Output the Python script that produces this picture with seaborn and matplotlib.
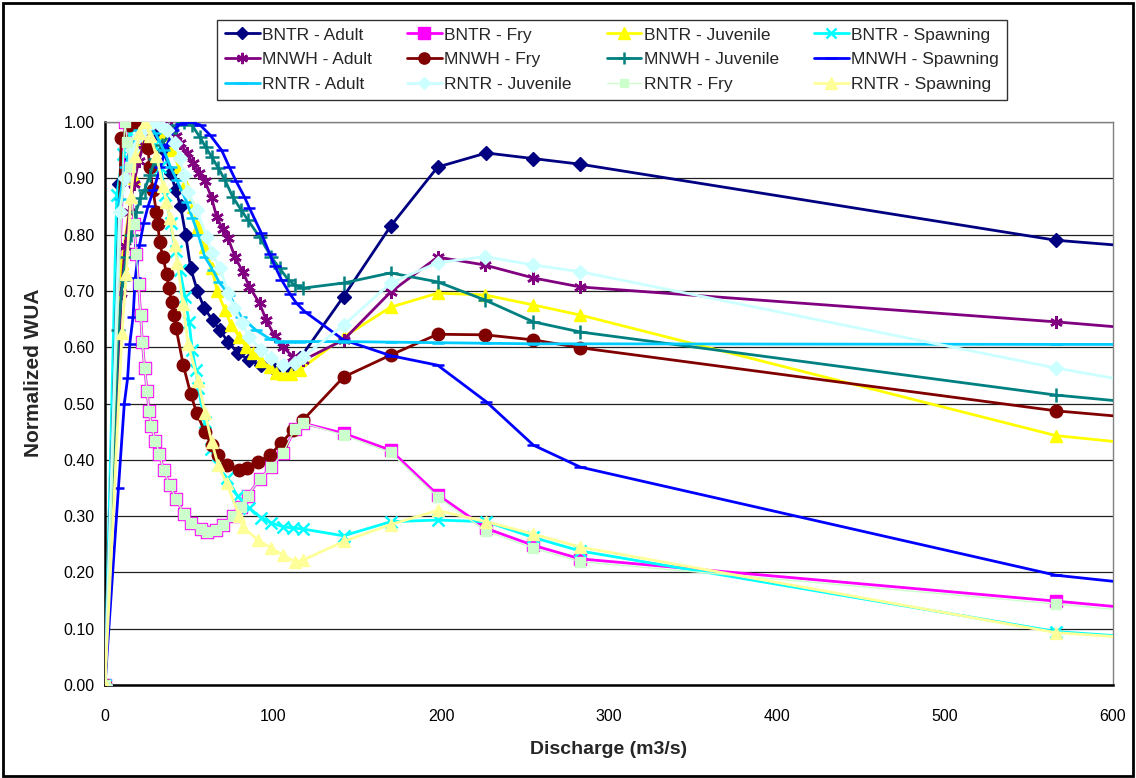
import numpy as np
import matplotlib
matplotlib.use("Agg")
import matplotlib.pyplot as plt
import seaborn as sns
from matplotlib.patches import Rectangle

# ---- data (discharge m3/s, normalized WUA) ----
bntr_adult_x = [0, 8.5, 14, 20, 26, 31, 35, 39, 42, 45, 48, 51, 55, 59, 64, 68.5, 73, 79, 86, 93, 100, 105, 110, 116, 142, 170, 198, 227, 255, 283, 566, 708]
bntr_adult_y = [0, 0.89, 0.93, 0.97, 0.99, 0.98, 0.95, 0.91, 0.88, 0.85, 0.80, 0.74, 0.70, 0.67, 0.648, 0.63, 0.61, 0.59, 0.577, 0.568, 0.563, 0.56, 0.565, 0.58, 0.69, 0.815, 0.92, 0.945, 0.935, 0.925, 0.79, 0.756]

fry_x = [0, 11.7, 13.3, 14.7, 17.3, 18.6, 20, 21.2, 22.2, 23.6, 25, 26.2, 27.6, 30, 32.4, 35, 38.4, 42.4, 47, 51.4, 57, 61, 66, 70, 76, 81, 85, 92, 99, 106, 113, 118, 142, 170, 198, 227, 255, 283, 566, 708]
bntr_fry_y = [0, 1.0, 0.965, 0.92, 0.818, 0.766, 0.712, 0.658, 0.61, 0.563, 0.523, 0.487, 0.46, 0.434, 0.41, 0.382, 0.356, 0.33, 0.304, 0.287, 0.277, 0.272, 0.275, 0.284, 0.30, 0.316, 0.336, 0.366, 0.387, 0.412, 0.455, 0.465, 0.447, 0.417, 0.338, 0.278, 0.248, 0.224, 0.149, 0.11]
rntr_fry_y = [0, 1.0, 0.965, 0.92, 0.818, 0.766, 0.712, 0.658, 0.61, 0.563, 0.523, 0.487, 0.46, 0.434, 0.41, 0.382, 0.356, 0.33, 0.304, 0.287, 0.277, 0.272, 0.275, 0.284, 0.30, 0.316, 0.336, 0.366, 0.387, 0.412, 0.455, 0.465, 0.444, 0.413, 0.334, 0.273, 0.243, 0.219, 0.144, 0.104]

bntr_juv_x = [0, 10, 17, 23, 29, 35, 40, 44, 47.6, 52.4, 55.4, 59.5, 63.7, 66.7, 71.4, 75, 80, 84, 88, 93, 98, 102, 106, 111, 116, 142, 170, 198, 226, 255, 283, 566, 708]
bntr_juv_y = [0, 0.75, 0.9, 0.97, 1.0, 0.98, 0.95, 0.92, 0.89, 0.849, 0.813, 0.778, 0.74, 0.70, 0.666, 0.64, 0.618, 0.60, 0.59, 0.575, 0.565, 0.555, 0.552, 0.553, 0.56, 0.618, 0.671, 0.696, 0.693, 0.675, 0.657, 0.443, 0.40]

bntr_spawn_x = [0, 7, 10.7, 15, 20, 25, 29, 33, 36, 39, 42, 44.6, 47.6, 50, 52, 54, 55.5, 59.5, 63, 67, 72.4, 79, 86, 93, 99, 106, 112, 118, 142, 170, 198, 227, 255, 283, 566, 708]
bntr_spawn_y = [0, 0.87, 0.943, 0.98, 1.0, 0.99, 0.96, 0.92, 0.87, 0.82, 0.77, 0.737, 0.69, 0.645, 0.595, 0.56, 0.527, 0.467, 0.42, 0.39, 0.368, 0.335, 0.314, 0.297, 0.288, 0.281, 0.279, 0.277, 0.265, 0.29, 0.293, 0.29, 0.262, 0.238, 0.095, 0.065]

mnwh_adult_x = [0, 9.7, 12, 14.5, 17, 20, 23, 27, 31, 35, 39, 42, 44.6, 48.6, 52.4, 56, 59.5, 63.5, 66.5, 70, 73.2, 77.4, 82, 86, 92, 96, 101, 106, 112, 118, 142, 170, 198, 226, 255, 283, 566, 708]
mnwh_adult_y = [0, 0.697, 0.78, 0.84, 0.89, 0.93, 0.96, 0.985, 0.998, 1.0, 0.99, 0.975, 0.963, 0.945, 0.927, 0.91, 0.895, 0.865, 0.831, 0.81, 0.794, 0.76, 0.734, 0.707, 0.678, 0.648, 0.62, 0.60, 0.583, 0.577, 0.613, 0.698, 0.76, 0.746, 0.723, 0.707, 0.645, 0.61]

mnwh_fry_x = [0, 9.7, 14, 18, 22, 25.6, 26.6, 28.5, 30.6, 31.5, 32.5, 34.5, 36.7, 38, 39.7, 41, 42.3, 46.6, 51, 54.6, 59.5, 63.5, 67.5, 72.4, 80, 84.3, 91, 98, 105, 112, 118, 142, 170, 198, 226, 255, 283, 566, 708]
mnwh_fry_y = [0, 0.972, 0.995, 1.0, 0.985, 0.953, 0.92, 0.88, 0.84, 0.818, 0.786, 0.76, 0.73, 0.705, 0.68, 0.657, 0.634, 0.568, 0.517, 0.483, 0.449, 0.426, 0.408, 0.39, 0.382, 0.385, 0.396, 0.408, 0.43, 0.453, 0.471, 0.547, 0.586, 0.623, 0.622, 0.613, 0.599, 0.487, 0.45]

mnwh_juv_x = [0, 8, 10.5, 12.7, 15.5, 18.5, 21, 23.6, 26.6, 30, 34, 38.7, 42.7, 47, 51.6, 56.5, 60, 63.5, 67.5, 71.4, 76, 81, 85, 92, 99, 104, 109, 113, 118, 142, 170, 198, 226, 255, 283, 566, 708]
mnwh_juv_y = [0, 0.63, 0.72, 0.76, 0.80, 0.84, 0.865, 0.88, 0.905, 0.935, 0.96, 0.98, 0.995, 1.0, 0.995, 0.973, 0.955, 0.938, 0.918, 0.897, 0.867, 0.844, 0.826, 0.796, 0.76, 0.74, 0.72, 0.71, 0.705, 0.714, 0.732, 0.716, 0.684, 0.645, 0.627, 0.515, 0.475]

mnwh_spawn_x = [0, 8, 11.5, 13.5, 14.7, 16.7, 18, 20.6, 23, 25.6, 29, 33, 37, 40.5, 45, 50.6, 56.5, 62.5, 69.4, 74, 78, 83, 86, 93, 98, 101, 105, 110, 114, 119, 142, 170, 198, 227, 255, 283, 566, 708]
mnwh_spawn_y = [0, 0.35, 0.50, 0.546, 0.605, 0.654, 0.723, 0.782, 0.82, 0.85, 0.88, 0.92, 0.96, 0.985, 0.997, 1.0, 0.995, 0.977, 0.95, 0.92, 0.895, 0.867, 0.847, 0.803, 0.766, 0.745, 0.72, 0.695, 0.678, 0.663, 0.613, 0.585, 0.568, 0.503, 0.426, 0.387, 0.195, 0.15]

rntr_adult_x = [0, 8.7, 12, 16, 20, 25, 30, 35, 39, 42.7, 48.6, 52, 55.5, 59.5, 64.3, 68, 74, 81, 90, 98, 104, 110, 116, 142, 170, 198, 227, 255, 283, 566, 708]
rntr_adult_y = [0, 0.864, 0.92, 0.96, 0.985, 1.0, 0.98, 0.95, 0.92, 0.897, 0.858, 0.83, 0.80, 0.76, 0.737, 0.715, 0.693, 0.654, 0.63, 0.615, 0.61, 0.61, 0.61, 0.61, 0.609, 0.608, 0.607, 0.606, 0.606, 0.605, 0.605]

rntr_juv_x = [0, 8.7, 12, 16, 20, 24, 28.6, 32.5, 36.7, 41.7, 44.6, 47, 49.4, 54.6, 60.5, 63.5, 68.5, 73.2, 77, 81.4, 86, 93, 99, 106, 113, 118, 142, 170, 198, 226, 255, 283, 566, 708]
rntr_juv_y = [0, 0.84, 0.9, 0.95, 0.975, 0.99, 1.0, 0.995, 0.986, 0.962, 0.936, 0.905, 0.876, 0.844, 0.796, 0.767, 0.741, 0.696, 0.67, 0.643, 0.618, 0.595, 0.58, 0.568, 0.572, 0.583, 0.639, 0.714, 0.75, 0.761, 0.746, 0.734, 0.563, 0.488]

rntr_spawn_x = [0, 10.1, 12.7, 15.3, 18, 20.5, 23.6, 27, 30.6, 34.5, 36.5, 38.5, 41.5, 43, 46.4, 49.4, 55.4, 59.5, 63.5, 67.4, 72.4, 80, 82, 91, 99, 106, 113, 118, 142, 170, 198, 227, 255, 283, 566, 708]
rntr_spawn_y = [0, 0.625, 0.73, 0.866, 0.94, 0.98, 1.0, 0.975, 0.94, 0.887, 0.858, 0.83, 0.782, 0.75, 0.677, 0.605, 0.54, 0.483, 0.432, 0.39, 0.358, 0.30, 0.28, 0.258, 0.243, 0.231, 0.219, 0.222, 0.255, 0.285, 0.31, 0.29, 0.268, 0.245, 0.093, 0.065]

series = [
    ("BNTR - Adult", bntr_adult_x, bntr_adult_y, "#000080", "D", 7, "#000080"),
    ("BNTR - Fry", fry_x, bntr_fry_y, "#FF00FF", "s", 9, "#FF00FF"),
    ("BNTR - Juvenile", bntr_juv_x, bntr_juv_y, "#FFFF00", "^", 9, "#FFFF00"),
    ("BNTR - Spawning", bntr_spawn_x, bntr_spawn_y, "#00FFFF", "x", 8, "#00FFFF"),
    ("MNWH - Adult", mnwh_adult_x, mnwh_adult_y, "#800080", (6, 2, 0), 9, "#800080"),
    ("MNWH - Fry", mnwh_fry_x, mnwh_fry_y, "#800000", "o", 9, "#800000"),
    ("MNWH - Juvenile", mnwh_juv_x, mnwh_juv_y, "#008080", "+", 10, "#008080"),
    ("MNWH - Spawning", mnwh_spawn_x, mnwh_spawn_y, "#0000FF", "_", 9, "#0000FF"),
    ("RNTR - Adult", rntr_adult_x, rntr_adult_y, "#00CCFF", "_", 9, "#00CCFF"),
    ("RNTR - Juvenile", rntr_juv_x, rntr_juv_y, "#CCFFFF", "D", 7, "#CCFFFF"),
    ("RNTR - Fry", fry_x, rntr_fry_y, "#CCFFCC", "s", 6.5, "#CCFFCC"),
    ("RNTR - Spawning", rntr_spawn_x, rntr_spawn_y, "#FFFF99", "^", 9, "#FFFF99"),
]

sns.set_style("white")
plt.rcParams["font.family"] = ["Liberation Sans", "DejaVu Sans"]

fig = plt.figure(figsize=(11.36, 7.78), dpi=100)
ax = fig.add_axes([105 / 1136, 1 - 685 / 778, (1113 - 105) / 1136, (685 - 122) / 778])

for i, (label, xs, ys, color, marker, ms, mfc) in enumerate(series):
    lw = 1.0 if label == "RNTR - Fry" else 2.0
    sns.lineplot(
        x=xs, y=ys, ax=ax, label=label, color=color, linewidth=lw,
        marker=marker, markersize=ms, markerfacecolor=mfc,
        markeredgecolor=color, markeredgewidth=1.8 if marker in ("x", "+", "_") or isinstance(marker, tuple) else 1.0,
        zorder=3 + i, clip_on=True,
    )

ax.set_xlim(0, 600)
ax.set_ylim(0, 1.0)
ax.set_xticks(np.arange(0, 601, 100))
ax.set_yticks(np.arange(0, 1.01, 0.1))
ax.set_yticklabels([f"{v:.2f}" for v in np.arange(0, 1.01, 0.1)])
ax.yaxis.grid(True, color="#202020", linewidth=0.9)
ax.set_axisbelow(True)
ax.tick_params(axis="both", labelsize=11.5, direction="out", length=4, width=1, colors="black")
ax.tick_params(axis="x", pad=13)
for side in ("left", "bottom"):
    ax.spines[side].set_color("black")
    ax.spines[side].set_linewidth(1.8)
for side in ("right", "top"):
    ax.spines[side].set_color("#808080")
    ax.spines[side].set_linewidth(1.0)

ax.set_xlabel("Discharge (m3/s)", fontsize=14, fontweight="bold")
ax.set_ylabel("Normalized WUA", fontsize=15, fontweight="bold")
ax.xaxis.set_label_coords(0.5, -0.1)
ax.yaxis.set_label_coords(-0.062, 0.555)

handles, labels = ax.get_legend_handles_labels()
order = [0, 4, 8, 1, 5, 9, 2, 6, 10, 3, 7, 11]
leg = fig.legend(
    [handles[k] for k in order], [labels[k] for k in order],
    ncol=4, loc="upper center", bbox_to_anchor=(612 / 1136, 0.986),
    fontsize=12.5, frameon=True, fancybox=False, edgecolor="black",
    handlelength=2.0, handletextpad=0.15, columnspacing=2.0, labelspacing=0.55,
    borderpad=0.45, markerscale=0.9,
)
leg.get_frame().set_linewidth(1.0)
ax.get_legend().remove()

fig.patches.append(Rectangle((0.003, 0.003), 0.994, 0.993, transform=fig.transFigure,
                             fill=False, edgecolor="black", linewidth=2))

fig.savefig("out.png", dpi=100)
